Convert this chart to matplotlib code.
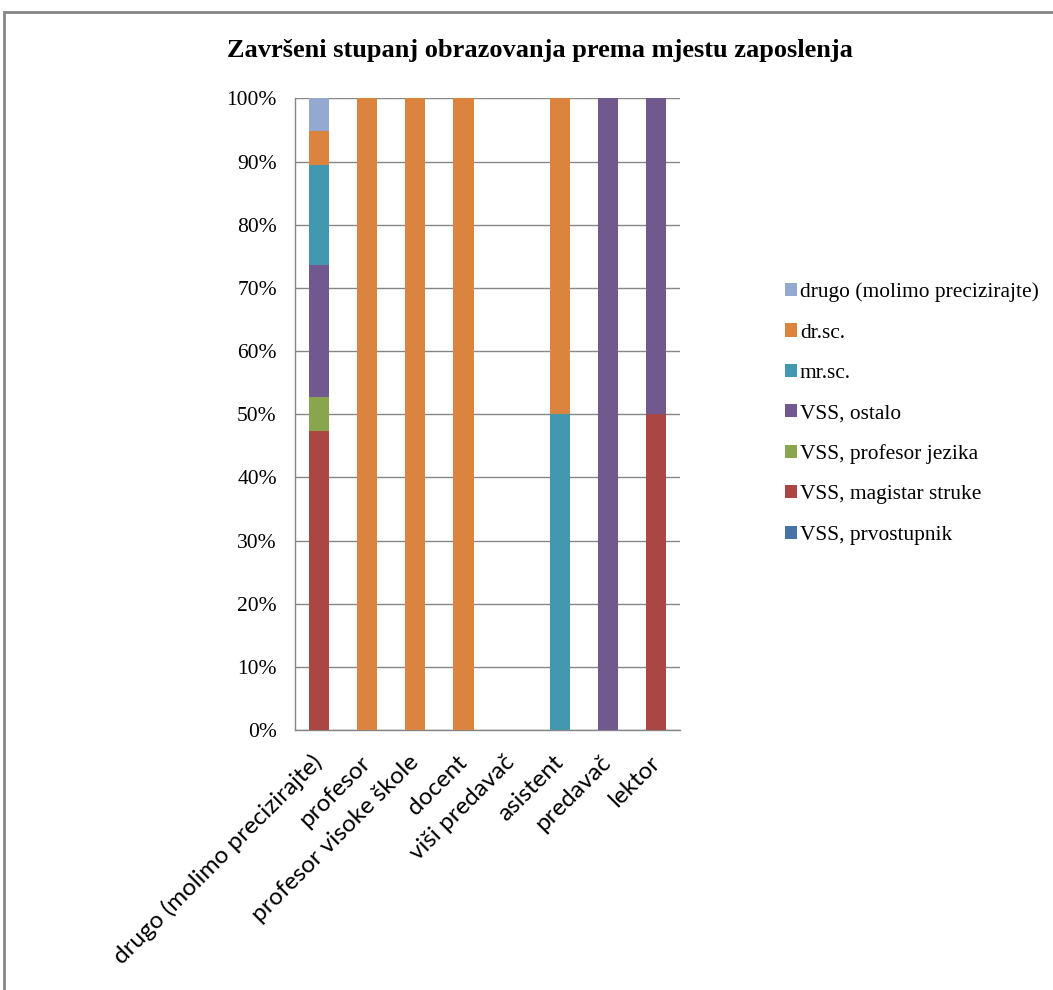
import matplotlib
matplotlib.use("Agg")
import matplotlib.pyplot as plt
from matplotlib.patches import Rectangle, Patch
import numpy as np

# Mjesto zaposlenja (kategorije na x osi)
mjesta = ["drugo (molimo precizirajte)", "profesor", "profesor visoke škole",
          "docent", "viši predavač", "asistent", "predavač", "lektor"]

# Udio (%) pojedinog stupnja obrazovanja, od dna stupca prema vrhu
vss_prvostupnik = [0, 0, 0, 0, 0, 0, 0, 0]
vss_magistar = [47.4, 0, 0, 0, 0, 0, 0, 50]
vss_prof_jezika = [5.3, 0, 0, 0, 0, 0, 0, 0]
vss_ostalo = [21.0, 0, 0, 0, 0, 0, 100, 50]
mr_sc = [15.8, 0, 0, 0, 0, 50, 0, 0]
dr_sc = [5.3, 100, 100, 100, 0, 50, 0, 0]
drugo = [5.2, 0, 0, 0, 0, 0, 0, 0]

serije = [
    ("VSS, prvostupnik", vss_prvostupnik, "#4572A7"),
    ("VSS, magistar struke", vss_magistar, "#AA4643"),
    ("VSS, profesor jezika", vss_prof_jezika, "#89A54E"),
    ("VSS, ostalo", vss_ostalo, "#71588F"),
    ("mr.sc.", mr_sc, "#4198AF"),
    ("dr.sc.", dr_sc, "#DB843D"),
    ("drugo (molimo precizirajte)", drugo, "#93A9CF"),
]

serif = "Liberation Serif"
sans = "Lato"

fig = plt.figure(figsize=(10.53, 9.9), dpi=100)
ax = fig.add_axes([0.280, 0.2626, 0.366, 0.638])

x = np.arange(len(mjesta))
dno = np.zeros(len(mjesta))
for naziv, vrijednosti, boja in serije:
    v = np.array(vrijednosti, dtype=float)
    ax.bar(x, v, bottom=dno, width=0.42, color=boja, zorder=3)
    dno += v

ax.set_xlim(-0.5, len(mjesta) - 0.5)
ax.set_ylim(0, 100)
ax.set_yticks(np.arange(0, 101, 10))
ax.set_yticklabels([f"{t}%" for t in range(0, 101, 10)], fontfamily=serif, fontsize=15.5)
ax.yaxis.grid(True, color="#868686", linewidth=1.0, zorder=0)
ax.tick_params(axis="y", length=0, pad=13)

ax.set_xticks(x)
ax.set_xticklabels(mjesta, rotation=45, ha="right", va="center",
                   rotation_mode="anchor", fontfamily=sans, fontsize=17.5)
ax.tick_params(axis="x", length=0, pad=21)

for s in ["top", "right"]:
    ax.spines[s].set_visible(False)
for s in ["left", "bottom"]:
    ax.spines[s].set_color("#868686")
    ax.spines[s].set_linewidth(1.0)

fig.text(0.513, 0.949, "Završeni stupanj obrazovanja prema mjestu zaposlenja",
         ha="center", va="center", fontfamily=serif, fontweight="bold", fontsize=19)

# Legenda obrnutim redoslijedom (vrh stupca prvi)
rucke = [Patch(facecolor=b, edgecolor="none", label=n) for n, _, b in serije[::-1]]
fig.legend(handles=rucke, loc="upper left", bbox_to_anchor=(0.737, 0.7232),
           frameon=False, prop={"family": serif, "size": 15.4},
           handlelength=0.56, handleheight=0.56, handletextpad=0.15,
           labelspacing=0.99, borderaxespad=0)

# Okvir grafikona
fig.patches.append(Rectangle((4 / 1053, -0.1), 1.2, 1.1 - 12 / 990,
                             transform=fig.transFigure, fill=False,
                             edgecolor="#868686", linewidth=2))

fig.savefig("out.png", dpi=100)
